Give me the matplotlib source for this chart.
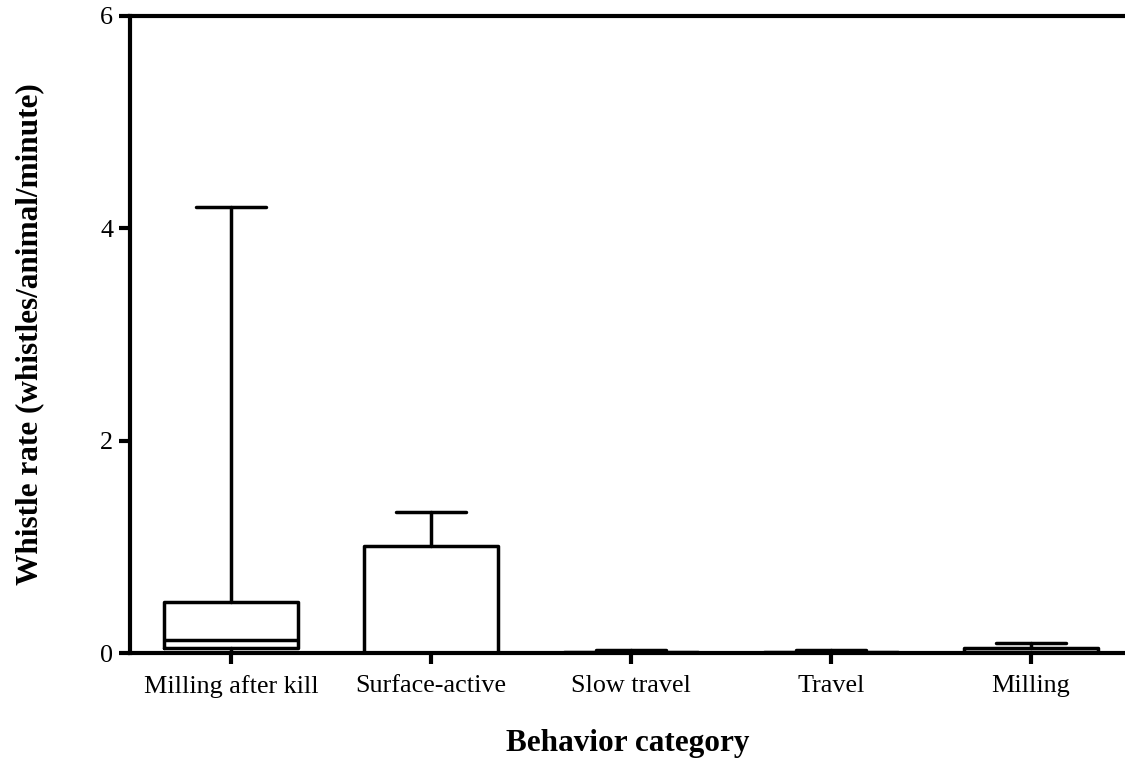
import matplotlib
matplotlib.use("Agg")
import matplotlib.pyplot as plt

categories = ["Milling after kill", "Surface-active", "Slow travel", "Travel", "Milling"]
whisker_low = [0.0, 0.0, 0.0, 0.0, 0.0]
q1 = [0.05, 0.0, 0.0, 0.0, 0.0]
median = [0.12, 0.0, 0.0, 0.0, 0.01]
q3 = [0.48, 1.01, 0.005, 0.008, 0.05]
whisker_high = [4.2, 1.33, 0.03, 0.03, 0.09]
y_ticks = [0, 2, 4, 6]

plt.rcParams['font.family'] = ['Liberation Serif', 'DejaVu Serif']

fig = plt.figure(figsize=(11.25, 7.63), dpi=100)
ax = fig.add_axes([130/1125, 1 - 653/763, 1 - 130/1125, (653 - 16)/763])

stats = []
for i, c in enumerate(categories):
    stats.append(dict(label=c, whislo=whisker_low[i], q1=q1[i], med=median[i],
                      q3=q3[i], whishi=whisker_high[i], fliers=[]))

lw = 2.5
props = dict(color='black', linewidth=lw, solid_capstyle='round', solid_joinstyle='round')
ax.bxp(stats, positions=range(1, len(categories) + 1), widths=0.67,
       capwidths=0.35, showfliers=False,
       boxprops=props, whiskerprops=props, capprops=props,
       medianprops=dict(color='black', linewidth=lw))

ax.set_xlim(0.495, 5.47)
ax.set_ylim(0, 6)
ax.set_yticks(y_ticks)
ax.set_yticklabels([str(t) for t in y_ticks])

for s in ['left', 'top', 'bottom']:
    ax.spines[s].set_linewidth(3.0)
ax.spines['right'].set_visible(False)
ax.tick_params(axis='both', direction='out', length=8, width=3.0, labelsize=18.8)
ax.tick_params(axis='x', pad=8)
ax.tick_params(axis='y', pad=4)

ax.set_xlabel("Behavior category", fontsize=22.5, fontweight='bold', labelpad=22)
ax.set_ylabel("Whistle rate (whistles/animal/minute)", fontsize=22.5, fontweight='bold', labelpad=40)

fig.savefig("out.png", dpi=100)
